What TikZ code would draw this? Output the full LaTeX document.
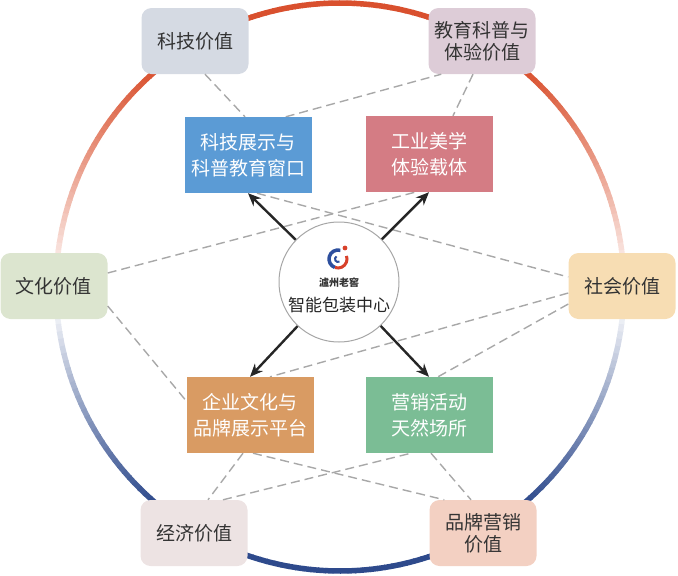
\documentclass[tikz,border=0pt]{standalone}
\usepackage{fontspec}
\usepackage{tikz}
\usetikzlibrary{arrows.meta}
\newfontfamily\cjk{Noto Sans CJK SC}

\definecolor{circred}{HTML}{D9502E}
\definecolor{circblue}{HTML}{2E4A8C}
\definecolor{txtgray}{HTML}{333333}
\definecolor{linegray}{HTML}{A8A8A8}
\definecolor{kjfill}{HTML}{D5DAE3}
\definecolor{jyfill}{HTML}{DDCCD7}
\definecolor{whfill}{HTML}{DCE5CF}
\definecolor{shfill}{HTML}{F7DDB3}
\definecolor{jjfill}{HTML}{EDE3E3}
\definecolor{ppfill}{HTML}{F3D0C2}
\definecolor{bluebox}{HTML}{5B9BD5}
\definecolor{rosebox}{HTML}{D47C84}
\definecolor{tanbox}{HTML}{D99B63}
\definecolor{greenbox}{HTML}{7BBD95}
\definecolor{logoblue}{HTML}{2D4F9E}
\definecolor{logored}{HTML}{D8412A}

\begin{document}
\begin{tikzpicture}[x=1pt,y=-1pt,
	valbox/.style={rounded corners=10pt, minimum width=107pt, minimum height=66pt, inner sep=0pt, align=center, text=txtgray, font=\cjk\fontsize{19}{22}\selectfont},
	rolebox/.style={minimum width=127pt, minimum height=76pt, inner sep=0pt, align=center, text=white, font=\cjk\fontsize{19}{26}\selectfont},
	link/.style={draw=linegray, line width=1.4pt, dash pattern=on 9pt off 5pt},
	push/.style={-{Stealth[length=13pt,width=11pt]}, line width=2.4pt, draw=black!85}]
	\useasboundingbox (0,0) rectangle (678,576);
	% ring, red on top fading to blue at the bottom
	\foreach \a in {0,1.5,...,358.5}{
		\pgfmathsetmacro\s{sin(\a+0.75)}
		\pgfmathsetmacro\pr{max(0,min(100,130*\s))}
		\pgfmathsetmacro\pb{max(0,min(100,-140*(\s+0.05)))}
		\ifdim\s pt>0pt \def\cc{circred!\pr!white}\else\def\cc{circblue!\pb!white}\fi
		\draw[line width=5.5pt, color=\cc] (340,287) ++(\a:284pt) arc[start angle=\a, end angle=\a+1.7, radius=284pt];
	}
	% value boxes
	\node[valbox, fill=kjfill] (kj) at (195,41) {科技价值};
	\node[valbox, fill=jyfill] (jy) at (482,41) {教育科普与\\体验价值};
	\node[valbox, fill=whfill] (wh) at (54,286) {文化价值};
	\node[valbox, fill=shfill] (sh) at (622,286) {社会价值};
	\node[valbox, fill=jjfill] (jj) at (194,533) {经济价值};
	\node[valbox, fill=ppfill] (pp) at (483,533) {品牌营销\\价值};
	% role boxes
	\coordinate (c1) at (248,155);
	\coordinate (c2) at (429,154);
	\coordinate (c3) at (250,415);
	\coordinate (c4) at (429,415);
	% dashed links
	\begin{scope}
		\path (c1) node[rolebox] (b1) {} (c2) node[rolebox] (b2) {} (c3) node[rolebox] (b3) {} (c4) node[rolebox] (b4) {};
		\draw[link] ([xshift=10pt]kj.south) -- ([xshift=-3pt]b1.north);
		\draw[link] ([xshift=-26pt]b1.north east) -- ([xshift=13pt]jy.south west);
		\draw[link] ([xshift=-9pt]jy.south) -- ([xshift=24pt]b2.north);
		\draw[link] ([xshift=9pt]b1.south) -- ([yshift=9pt]sh.west);
		\draw[link] ([yshift=13pt]wh.east) -- ([xshift=-14pt]b2.south);
		\draw[link] ([yshift=-20pt]wh.east) -- ([yshift=14pt]b3.west);
		\draw[link] ([xshift=-7pt]b3.south) -- ([xshift=14pt]jj.north);
		\draw[link] ([xshift=3pt]b3.south) -- ([xshift=15pt]pp.north west);
		\draw[link] ([xshift=29pt]jj.north) -- ([xshift=-18pt]b4.south);
		\draw[link] ([xshift=2pt]b4.south) -- ([xshift=-12pt]pp.north);
		\draw[link] ([yshift=-18pt]sh.west) -- ([xshift=9pt]b4.north);
		\draw[link] ([yshift=-7pt]sh.west) -- ([xshift=20pt]b3.north);
	\end{scope}
	\node[rolebox, fill=bluebox] at (c1) {科技展示与\\科普教育窗口};
	\node[rolebox, fill=rosebox] at (c2) {工业美学\\体验载体};
	\node[rolebox, fill=tanbox] at (c3) {企业文化与\\品牌展示平台};
	\node[rolebox, fill=greenbox] at (c4) {营销活动\\天然场所};
	% hub
	\node[circle, draw=black!35, line width=1pt, fill=white, minimum size=120pt] (hub) at (339,282) {};
	\coordinate (logo) at (338,259);
	\draw[logoblue, line width=3.5pt] (logo) ++(75:9pt) arc[start angle=75, end angle=250, radius=9pt];
	\draw[logored, line width=3pt] (logo) ++(250:9pt) arc[start angle=250, end angle=380, radius=9pt];
	\draw[logoblue, line width=2pt] (logo) ++(120:3pt) arc[start angle=120, end angle=300, radius=3pt];
	\fill[logored] (345,248) circle[radius=2.4pt];
	\node[font=\cjk\bfseries\fontsize{10}{10}\selectfont, text=txtgray] (brand) at (339,283) {瀘州老窖};
	\node[font=\cjk\fontsize{17}{17}\selectfont, text=black!85] (hubtext) at (339,305) {智能包装中心};
	\draw[push] (hub) -- (b1.south);
	\draw[push] (hub) -- (b2.south);
	\draw[push] (hub) -- (b3.north);
	\draw[push] (hub) -- (b4.north);
\end{tikzpicture}
\end{document}
